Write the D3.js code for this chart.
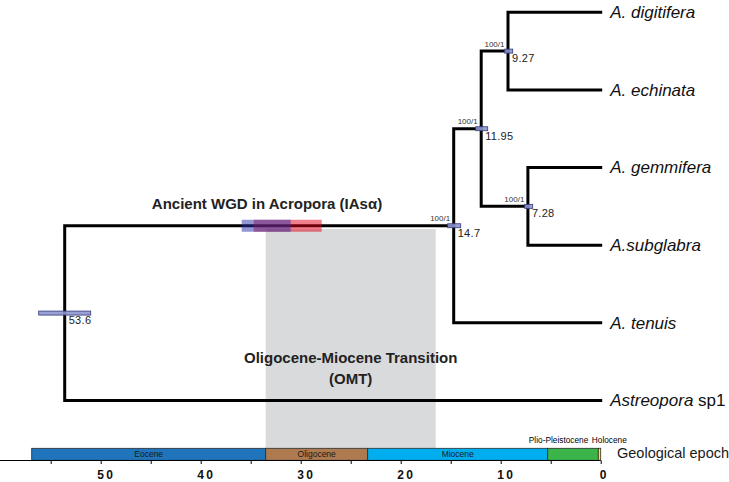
<!DOCTYPE html>
<html>
<head>
<meta charset="utf-8">
<script src="https://cdn.jsdelivr.net/npm/d3@7/dist/d3.min.js"></script>
<style>
  html, body { margin: 0; padding: 0; background: #fff; }
  svg { display: block; font-family: "Liberation Sans", Arial, Helvetica, sans-serif; }
</style>
</head>
<body>
<svg id="chart" width="729" height="482"></svg>
<script>
// ---------------- DATA ----------------
const tipNames = ["A. digitifera", "A. echinata", "A. gemmifera", "A.subglabra", "A. tenuis", "Astreopora sp1"];
const internalNodes = ["n1", "n2", "n3", "n4", "root"];
const nodeChildren = [
  ["A. digitifera", "A. echinata"],
  ["A. gemmifera", "A.subglabra"],
  ["n1", "n2"],
  ["n3", "A. tenuis"],
  ["n4", "Astreopora sp1"]
];
const nodeAges = [9.27, 7.28, 11.95, 14.7, 53.6];
const nodeSupport = ["100/1", "100/1", "100/1", "100/1", ""];
const nodeHPDLow = [8.8, 6.8, 11.3, 14.0, 51.0];
const nodeHPDHigh = [9.6, 7.6, 12.5, 15.3, 56.2];

const wgdBlue = [35.9, 31.0];
const wgdRed = [34.7, 27.9];
const omtBand = [33.5, 16.5];

const epochNames = ["Eocene", "Oligocene", "Miocene", "Plio-Pleistocene", "Holocene"];
const epochStart = [56.9, 33.5, 23.3, 5.3, 0.24];
const epochEnd = [33.5, 23.3, 5.3, 0.24, 0];
const epochColors = ["#1f74bb", "#ad7b4f", "#00aeef", "#3bb44a", "#fff200"];

const tickValues = [55, 50, 45, 40, 35, 30, 25, 20, 15, 10, 5, 0];

// ---------------- LAYOUT ----------------
const svg = d3.select("#chart");
const x = d3.scaleLinear().domain([60, 0]).range([0.7, 600.7]);
const y = d3.scalePoint().domain(tipNames).range([12.3, 400.4]);

const bandTop = 229, epochTop = 448.3, epochBottom = 460.3;

function build(id) {
  const i = internalNodes.indexOf(id);
  if (i < 0) return { id: id, age: 0 };
  return { id: id, age: nodeAges[i], idx: i, children: nodeChildren[i].map(build) };
}
const root = d3.hierarchy(build("root"));
root.eachAfter(n => {
  if (!n.children) n.py = y(n.data.id);
  else n.py = d3.mean(n.children, c => c.py);
  n.px = x(n.data.age);
});

// OMT grey band
svg.append("rect")
  .attr("x", x(omtBand[0])).attr("width", x(omtBand[1]) - x(omtBand[0]))
  .attr("y", bandTop).attr("height", epochTop - bandTop)
  .attr("fill", "#d9dadb");

// Branches
const links = root.descendants().filter(n => n.parent);
svg.append("g").selectAll("path").data(links).join("path")
  .attr("d", n => `M${n.parent.px},${n.parent.py}V${n.py}H${n.px}`)
  .attr("fill", "none").attr("stroke", "#000").attr("stroke-width", 3)
  .attr("stroke-linecap", "square").attr("stroke-linejoin", "miter");

// WGD bars on branch leading to node n4
const n4 = root.descendants().find(n => n.data.id === "n4");
const wgdY = n4.py;
svg.append("rect")
  .attr("x", x(wgdRed[0])).attr("width", x(wgdRed[1]) - x(wgdRed[0]))
  .attr("y", wgdY - 6).attr("height", 12)
  .attr("fill", "#e1001a").attr("fill-opacity", 0.5);
svg.append("rect")
  .attr("x", x(wgdBlue[0])).attr("width", x(wgdBlue[1]) - x(wgdBlue[0]))
  .attr("y", wgdY - 6).attr("height", 12)
  .attr("fill", "#2832aa").attr("fill-opacity", 0.5);

// Node HPD bars
const inner = root.descendants().filter(n => n.children);
svg.append("g").selectAll("rect").data(inner).join("rect")
  .attr("x", n => x(nodeHPDHigh[n.data.idx]))
  .attr("width", n => x(nodeHPDLow[n.data.idx]) - x(nodeHPDHigh[n.data.idx]))
  .attr("y", n => n.py - 2).attr("height", 4)
  .attr("fill", "#8d96cf").attr("fill-opacity", 0.9)
  .attr("stroke", "#343a7a").attr("stroke-width", 0.8);

// Node age labels
svg.append("g").selectAll("text").data(inner).join("text")
  .attr("x", n => n.px + 4).attr("y", n => n.py + 11)
  .attr("font-size", 11).attr("fill", "#222").attr("letter-spacing", 0.3)
  .text(n => nodeAges[n.data.idx]);

// Support labels
svg.append("g").selectAll("text").data(inner.filter(n => nodeSupport[n.data.idx])).join("text")
  .attr("x", n => n.px - 3.5).attr("y", n => n.py - 4.5)
  .attr("text-anchor", "end").attr("font-size", 8).attr("fill", "#333")
  .text(n => nodeSupport[n.data.idx]);

// Tip labels
const leaves = root.leaves();
const tipText = svg.append("g").selectAll("text").data(leaves).join("text")
  .attr("x", n => n.px + 9.5).attr("y", n => n.py + 5.8)
  .attr("font-size", 17).attr("fill", "#111");
tipText.each(function(n) {
  const t = d3.select(this);
  const name = n.data.id;
  if (name.startsWith("Astreopora")) {
    t.append("tspan").attr("font-style", "italic").text("Astreopora");
    t.append("tspan").text(name.slice("Astreopora".length));
  } else {
    t.attr("font-style", "italic").text(name);
  }
});

// Annotations
svg.append("text").attr("x", 267).attr("y", 208.5)
  .attr("text-anchor", "middle").attr("font-size", 15).attr("font-weight", "bold").attr("fill", "#222")
  .text("Ancient WGD in Acropora (IAsα)");
const omtMid = (x(omtBand[0]) + x(omtBand[1])) / 2;
svg.append("text").attr("x", omtMid).attr("y", 363.3)
  .attr("text-anchor", "middle").attr("font-size", 15).attr("font-weight", "bold").attr("fill", "#222")
  .text("Oligocene-Miocene Transition");
svg.append("text").attr("x", omtMid).attr("y", 383.5)
  .attr("text-anchor", "middle").attr("font-size", 15).attr("font-weight", "bold").attr("fill", "#222")
  .text("(OMT)");

// Epoch bar
const epochs = epochNames.map((name, i) => ({ name, s: epochStart[i], e: epochEnd[i], c: epochColors[i], i }));
svg.append("g").selectAll("rect").data(epochs).join("rect")
  .attr("x", d => x(d.s)).attr("width", d => x(d.e) - x(d.s))
  .attr("y", epochTop).attr("height", epochBottom - epochTop)
  .attr("fill", d => d.c).attr("stroke", "#2a2a2a").attr("stroke-width", 0.8);
svg.append("g").selectAll("text").data(epochs.slice(0, 3)).join("text")
  .attr("x", d => (x(d.s) + x(d.e)) / 2).attr("y", 457)
  .attr("text-anchor", "middle").attr("font-size", 8.5).attr("fill", "#1a1a1a")
  .text(d => d.name);
// small epochs labelled above
svg.append("text").attr("x", x(epochs[4].s) - 10).attr("y", 442.7)
  .attr("text-anchor", "end").attr("font-size", 8.3).attr("fill", "#000").text(epochs[3].name);
svg.append("text").attr("x", x(epochs[4].s) - 6.5).attr("y", 442.7)
  .attr("text-anchor", "start").attr("font-size", 8.3).attr("fill", "#000").text(epochs[4].name);

svg.append("text").attr("x", 617).attr("y", 458)
  .attr("font-size", 14.5).attr("fill", "#1a1a1a").text("Geological epoch");

// Axis
const axis = d3.axisBottom(x).tickValues(tickValues).tickSize(3.5).tickSizeOuter(0)
  .tickFormat(d => d % 10 === 0 ? d : "");
const ax = svg.append("g").attr("transform", "translate(0,460.5)").call(axis);
ax.attr("font-family", null).attr("font-size", null);
ax.select(".domain").attr("stroke", "#000").attr("stroke-width", 1).attr("d", `M0,0H${x(0)}`);
ax.selectAll(".tick line").attr("stroke", "#000");
ax.selectAll(".tick text")
  .attr("y", 18).attr("dy", 0)
  .attr("dx", d => d >= 10 ? 5 : 3)
  .style("font-family", "'Liberation Sans', Arial, sans-serif")
  .style("font-size", "12px").style("font-weight", "bold").style("letter-spacing", "2.2px")
  .attr("fill", "#111");
</script>
</body>
</html>
